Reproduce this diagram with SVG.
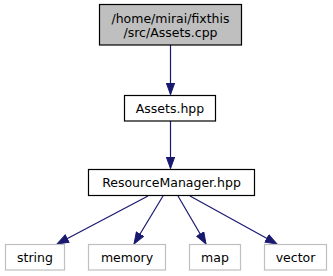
<svg xmlns="http://www.w3.org/2000/svg" width="333" height="276" viewBox="0 0 333 276">
  <style>
    text { font-family: "DejaVu Sans", sans-serif; font-size: 12.5px; text-anchor: middle; fill: #000; }
    .main { fill: #bfbfbf; stroke: #000; stroke-width: 1.2; }
    .node { fill: #fff; stroke: #000; stroke-width: 1.2; }
    .ext { fill: #fff; stroke: #bfbfbf; stroke-width: 1.2; }
    .edge { stroke: #191970; fill: none; stroke-width: 1.2; }
  </style>
  <defs>
    <marker id="arrow" viewBox="0 0 13 10" refX="12" refY="5" markerWidth="13" markerHeight="10" markerUnits="userSpaceOnUse" orient="auto">
      <path d="M0.5,0.8 L12,5 L0.5,9.2 Z" fill="#191970" stroke="#191970" stroke-width="1"/>
    </marker>
  </defs>
  <rect width="333" height="276" fill="#fff"/>

  <g id="connectors">
    <line class="edge" x1="170.5" y1="45" x2="170.5" y2="94.5" marker-end="url(#arrow)"/>
    <line class="edge" x1="170.5" y1="121" x2="170.5" y2="168.5" marker-end="url(#arrow)"/>
    <line class="edge" x1="148" y1="196" x2="57" y2="244" marker-end="url(#arrow)"/>
    <line class="edge" x1="163" y1="196" x2="134" y2="244" marker-end="url(#arrow)"/>
    <line class="edge" x1="178" y1="196" x2="206" y2="244" marker-end="url(#arrow)"/>
    <line class="edge" x1="190" y1="196" x2="277" y2="244" marker-end="url(#arrow)"/>
  </g>

  <g id="node-assets-cpp">
    <rect class="main" x="99.5" y="4.5" width="142" height="40.5"/>
    <text x="170.5" y="23">/home/mirai/fixthis</text>
    <text x="170.5" y="37">/src/Assets.cpp</text>
  </g>
  <g id="node-assets-hpp">
    <rect class="node" x="124.5" y="95.5" width="91" height="25.5"/>
    <text x="170" y="112.5">Assets.hpp</text>
  </g>
  <g id="node-resource-manager">
    <rect class="node" x="88.5" y="169.5" width="166" height="26"/>
    <text x="171.5" y="187">ResourceManager.hpp</text>
  </g>
  <g id="node-string">
    <rect class="ext" x="5.5" y="244.5" width="59" height="25.5"/>
    <text x="35" y="261.5">string</text>
  </g>
  <g id="node-memory">
    <rect class="ext" x="88.5" y="244.5" width="77" height="25.5"/>
    <text x="127" y="261.5">memory</text>
  </g>
  <g id="node-map">
    <rect class="ext" x="189.5" y="244.5" width="51" height="25.5"/>
    <text x="215" y="261.5">map</text>
  </g>
  <g id="node-vector">
    <rect class="ext" x="264.5" y="244.5" width="62" height="25.5"/>
    <text x="295.5" y="261.5">vector</text>
  </g>
</svg>
